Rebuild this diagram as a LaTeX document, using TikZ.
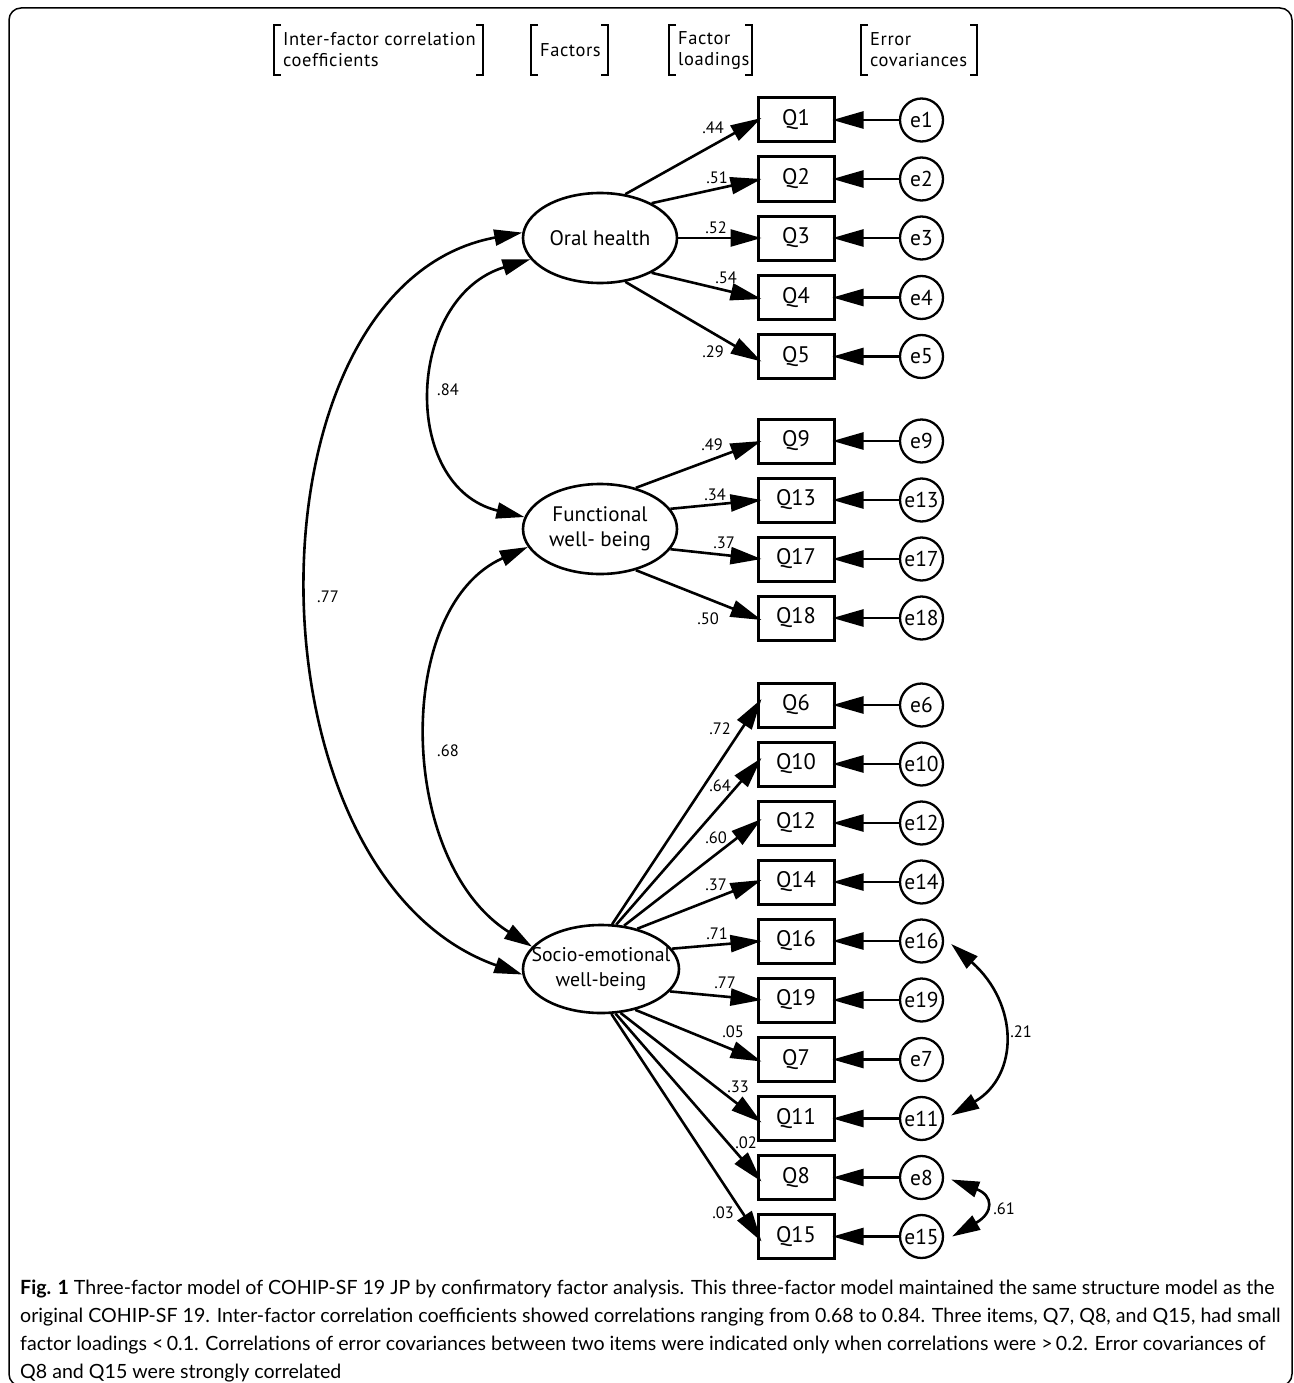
\documentclass[tikz,border=0pt]{standalone}
\usepackage{fontspec}
\setmainfont{PT Sans}
\newfontfamily\capfont{Lato}
\newfontfamily\hdrfont[LetterSpace=3]{PT Sans}
\usetikzlibrary{arrows.meta,calc,shapes.geometric}
\newcommand\zw[1]{\makebox[0pt]{#1}}
\begin{document}
\begin{tikzpicture}[x=1pt,y=-1pt,
  every node/.style={inner sep=0pt},
  item/.style={draw, line width=3pt, minimum width=76pt, minimum height=44pt,
    font=\fontsize{22.5}{26}\selectfont},
  err/.style={draw, circle, line width=2.3pt, minimum size=43pt,
    font=\fontsize{21.5}{25}\selectfont},
  factor/.style={draw, ellipse, line width=2.6pt, minimum width=154pt,
    minimum height=90pt, align=center, font=\fontsize{21}{25}\selectfont},
  coef/.style={font=\fontsize{16.5}{19}\selectfont},
  tipA/.style={-{Triangle[length=31pt,width=17pt]}, line width=2.6pt},
  both/.style={{Triangle[length=28pt,width=16pt]}-{Triangle[length=28pt,width=16pt]},
    line width=2.6pt},
  hdr/.style={anchor=west, align=left, font=\hdrfont\fontsize{18.5}{21}\selectfont},
  brk/.style={line width=1.3pt}
]
\useasboundingbox (0,0) rectangle (1293,1383);
% outer frame
\draw[line width=1.5pt, rounded corners=12pt] (9,8) rectangle (1292,1386);

% column headers with square brackets
\node[hdr] (h1) at (283,50) {Inter-factor correlation\\coefficients};
\node[hdr] (h2) at (540,50) {Factors};
\node[hdr] (h3) at (678,50) {Factor\\loadings};
\node[hdr] (h4) at (870,50) {Error\\covariances};
\foreach \a/\b in {274/483, 531/608, 669/752, 861/977}{
  \draw[brk] (\a+7,25) -- (\a,25) -- (\a,75) -- (\a+7,75);
  \draw[brk] (\b-7,25) -- (\b,25) -- (\b,75) -- (\b-7,75);
}

% latent factors
\node[factor] (O) at (600,238) {\zw{Oral health}};
\node[factor] (F) at (600,529) {\zw{Functional}\\\zw{well- being}};
\node[factor, minimum width=156pt, minimum height=88pt,
  font=\fontsize{19.8}{25}\selectfont] (S) at (601,969)
  {\zw{Socio-emotional}\\\zw{well-being}};

% observed items
\node[item] (Q1)  at (796,120)   {Q1};
\node[item] (Q2)  at (796,179)   {Q2};
\node[item] (Q3)  at (796,238)   {Q3};
\node[item] (Q4)  at (796,297.5) {Q4};
\node[item] (Q5)  at (796,356.5) {Q5};
\node[item] (Q9)  at (796,441)   {Q9};
\node[item] (Q13) at (796,500)   {Q13};
\node[item] (Q17) at (796,559)   {Q17};
\node[item] (Q18) at (796,618)   {Q18};
\node[item] (Q6)  at (796,705)   {Q6};
\node[item] (Q10) at (796,764)   {Q10};
\node[item] (Q12) at (796,823)   {Q12};
\node[item] (Q14) at (796,882)   {Q14};
\node[item] (Q16) at (796,941)   {Q16};
\node[item] (Q19) at (796,1000)  {Q19};
\node[item] (Q7)  at (796,1059.5){Q7};
\node[item] (Q11) at (796,1118.5){Q11};
\node[item] (Q8)  at (796,1177.5){Q8};
\node[item] (Q15) at (796,1236.5){Q15};

% error terms and their paths
\foreach \q/\e in {Q1/e1,Q2/e2,Q3/e3,Q4/e4,Q5/e5,Q9/e9,Q13/e13,Q17/e17,Q18/e18,
  Q6/e6,Q10/e10,Q12/e12,Q14/e14,Q16/e16,Q19/e19,Q7/e7,Q11/e11,Q8/e8,Q15/e15}{
  \node[err] (\e) at ($(\q)+(125.5,0)$) {\e};
  \draw[tipA] (\e) -- ([xshift=-3pt]\q.east);
}

% factor loadings
\draw[tipA] (O.60)  -- ([xshift=5pt,yshift=2pt]Q1.west);
\draw[tipA] (O.34)  -- ([xshift=5pt]Q2.west);
\draw[tipA] (O.0)   -- ([xshift=5pt]Q3.west);
\draw[tipA] (O.-34) -- ([xshift=5pt,yshift=-1.5pt]Q4.west);
\draw[tipA] (O.-60) -- ([xshift=5pt,yshift=-5pt]Q5.west);
\draw[tipA] (F.49.5)  -- ([xshift=5pt]Q9.west);
\draw[tipA] (F.16.7)  -- ([xshift=5pt]Q13.west);
\draw[tipA] (F.-16.7) -- ([xshift=5pt]Q17.west);
\draw[tipA] (F.-49.5) -- ([xshift=5pt,yshift=-2pt]Q18.west);
\draw[tipA] (S.76)  -- ([xshift=5pt,yshift=6pt]Q6.west);
\draw[tipA] (S.71)  -- ([xshift=5pt,yshift=6pt]Q10.west);
\draw[tipA] (S.62)  -- ([xshift=5pt,yshift=4pt]Q12.west);
\draw[tipA] (S.48)  -- ([xshift=5pt,yshift=2pt]Q14.west);
\draw[tipA] (S.16)  -- ([xshift=5pt]Q16.west);
\draw[tipA] (S.-18) -- ([xshift=5pt]Q19.west);
\draw[tipA] (S.-50) -- ([xshift=5pt,yshift=-2pt]Q7.west);
\draw[tipA] (S.-66) -- ([xshift=5pt,yshift=-4pt]Q11.west);
\draw[tipA] (S.-72) -- ([xshift=5pt,yshift=-4pt]Q8.west);
\draw[tipA] (S.-77) -- ([xshift=5pt,yshift=-5pt]Q15.west);

\node[coef] (l1)  at (713,128)  {.44};
\node[coef] (l2)  at (717,178)  {.51};
\node[coef] (l3)  at (716,228)  {.52};
\node[coef] (l4)  at (726,278)  {.54};
\node[coef] (l5)  at (713,352)  {.29};
\node[coef] (l9)  at (712,445)  {.49};
\node[coef] (l13) at (715,495)  {.34};
\node[coef] (l17) at (724,543)  {.37};
\node[coef] (l18) at (708,619)  {.50};
\node[coef] (l6)  at (720,729)  {.72};
\node[coef] (l10) at (720,786)  {.64};
\node[coef] (l12) at (716,838)  {.60};
\node[coef] (l14) at (716,885)  {.37};
\node[coef] (l16) at (717,934)  {.71};
\node[coef] (l19) at (725,983)  {.77};
\node[coef] (l7)  at (733,1032) {.05};
\node[coef] (l11) at (738,1087) {.33};
\node[coef] (l8)  at (746,1143) {.02};
\node[coef] (l15) at (723,1213) {.03};

% inter-factor correlations
\draw[both] (O.176) .. controls +(-283,52) and +(-283,-100) .. (S.184);
\draw[both] (O.197) .. controls +(-125,38) and +(-125,-30) .. (F.171);
\draw[both] (F.194) .. controls +(-135,60) and +(-135,-85) .. (S.162);
\node[coef] (r77) at (328,597) {.77};
\node[coef] (r84) at (448,390) {.84};
\node[coef] (r68) at (448,751) {.68};

% error covariances
\draw[both] ($(e16.east)+(7,3)$) .. controls +(68,60) and +(68,-40) .. ($(e11.east)+(7,-3)$);
\draw[both] ($(e8.east)+(7,2)$) .. controls +(42,16) and +(42,-24) .. ($(e15.east)+(8,0)$);
\node[coef] (r21) at (1021,1032) {.21};
\node[coef] (r61) at (1004,1209) {.61};

% caption
\node[anchor=north west, align=left, font=\capfont\fontsize{19.6}{28}\selectfont] (cap) at (20,1280)
 {\textbf{Fig. 1} Three-factor model of COHIP-SF 19 JP by confirmatory factor analysis. This three-factor model maintained the same structure model as the\\
  original COHIP-SF 19. Inter-factor correlation coefficients showed correlations ranging from 0.68 to 0.84. Three items, Q7, Q8, and Q15, had small\\
  factor loadings {<}\,0.1. Correlations of error covariances between two items were indicated only when correlations were {>}\,0.2. Error covariances of\\
  Q8 and Q15 were strongly correlated};
\end{tikzpicture}
\end{document}
